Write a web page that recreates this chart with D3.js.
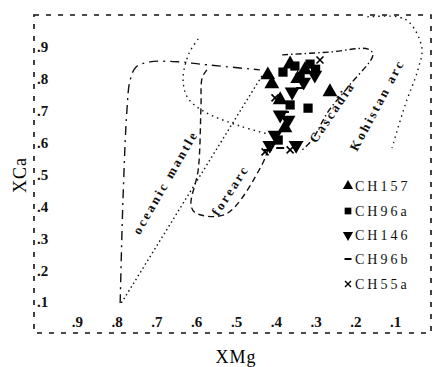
<!DOCTYPE html>
<html><head><meta charset="utf-8">
<script src="https://cdn.jsdelivr.net/npm/d3@7"></script>
<style>body{margin:0;background:#fff}</style></head>
<body><svg id="c" width="434" height="367"></svg>
<script>
// ---- data ----
const xTicks = [0.9,0.8,0.7,0.6,0.5,0.4,0.3,0.2,0.1];
const xTickLabels = [".9",".8",".7",".6",".5",".4",".3",".2",".1"];
const yTicks = [0.1,0.2,0.3,0.4,0.5,0.6,0.7,0.8,0.9];
const yTickLabels = [".1",".2",".3",".4",".5",".6",".7",".8",".9"];
const seriesNames = ["CH157","CH96a","CH146","CH96b","CH55a"];
const ch157 = [[0.420,0.812],[0.410,0.784],[0.364,0.846],[0.327,0.828],[0.264,0.759],[0.389,0.734],[0.377,0.646],[0.345,0.800]];
const ch96a = [[0.352,0.840],[0.314,0.846],[0.339,0.803],[0.319,0.708],[0.364,0.718],[0.382,0.821],[0.394,0.608],[0.300,0.830]];
const ch146 = [[0.302,0.812],[0.359,0.759],[0.389,0.687],[0.369,0.671],[0.402,0.624],[0.415,0.592],[0.349,0.592],[0.330,0.790]];
const ch96b = [[0.339,0.771],[0.377,0.696],[0.389,0.583],[0.420,0.577]];
const ch55a = [[0.289,0.859],[0.427,0.571],[0.364,0.577],[0.402,0.740]];
// field outlines (XMg, XCa)
const oceanicOutline = [[0.791,0.097],[0.784,0.420],[0.774,0.702],[0.766,0.796],[0.751,0.837],[0.716,0.853],[0.640,0.853],[0.590,0.846],[0.440,0.828]];
const oceanicDiagonal = [[0.435,0.809],[0.791,0.091]];
const forearcOutline = [[0.573,0.828],[0.585,0.803],[0.588,0.712],[0.595,0.514],[0.613,0.404],[0.601,0.379],[0.525,0.376],[0.435,0.530],[0.420,0.577]];
const arcLeftOutline = [[0.595,0.925],[0.618,0.880],[0.633,0.800],[0.621,0.740],[0.578,0.696],[0.490,0.652],[0.420,0.627]];
const arcRightOutline = [[0.170,0.994],[0.093,0.994],[0.063,0.975],[0.033,0.897],[0.043,0.828],[0.075,0.718],[0.108,0.583]];
const cascadiaOutline = [[0.384,0.875],[0.264,0.884],[0.168,0.893],[0.156,0.875],[0.214,0.781],[0.269,0.696],[0.309,0.608],[0.339,0.571]];
const fieldLabels = [
  {text:"oceanic mantle", x:0.678, y:0.476, a:-60},
  {text:"forearc", x:0.515, y:0.451, a:-57},
  {text:"Cascadia", x:0.259, y:0.696, a:-56},
  {text:"Kohistan arc", x:0.146, y:0.718, a:-62}
];

// ---- drawing ----
const svg = d3.select("#c");
const x = d3.scaleLinear().domain([1,0]).range([37,435]);
const y = d3.scaleLinear().domain([0,1]).range([334,15]);
const font = "'Liberation Serif','DejaVu Serif',serif";

// frame
const fL=34, fR=431, fT=15, fB=333;
svg.append("rect").attr("x",fL).attr("y",fT).attr("width",fR-fL).attr("height",fB-fT)
  .attr("fill","none").attr("stroke","#111").attr("stroke-width",1.6).attr("stroke-dasharray","5,7");

// tick labels inside frame
const gx = svg.append("g").attr("transform",`translate(0,${fB-4})`)
  .call(d3.axisBottom(x).tickValues(xTicks).tickFormat((d,i)=>xTickLabels[i]).tickSize(0));
gx.select(".domain").remove();
gx.selectAll("text").attr("y",-2).attr("dy","0").attr("font-family",font).attr("font-size",15).attr("font-weight","bold").attr("fill","#111");
const gy = svg.append("g").attr("transform",`translate(${fL+3},0)`)
  .call(d3.axisRight(y).tickValues(yTicks).tickFormat((d,i)=>yTickLabels[i]).tickSize(0));
gy.select(".domain").remove();
gy.selectAll("text").attr("x",0).attr("font-family",font).attr("font-size",15).attr("font-weight","bold").attr("fill","#111");

// axis titles
svg.append("text").attr("x",236).attr("y",363).attr("text-anchor","middle")
  .attr("font-family",font).attr("font-size",18).attr("letter-spacing",1).text("XMg");
svg.append("text").attr("transform","translate(26,175) rotate(-90)").attr("text-anchor","middle")
  .attr("font-family",font).attr("font-size",18).attr("letter-spacing",1).text("XCa");

// fields
const line = d3.line().x(d=>x(d[0])).y(d=>y(d[1])).curve(d3.curveCatmullRom.alpha(0.5));
const lineLin = d3.line().x(d=>x(d[0])).y(d=>y(d[1]));
const fld = svg.append("g").attr("fill","none").attr("stroke","#111").attr("stroke-width",1.4);
fld.append("path").attr("d",line(oceanicOutline)).attr("stroke-dasharray","9,5,2,5");
fld.append("path").attr("d",lineLin(oceanicDiagonal)).attr("stroke-dasharray","1.5,3");
fld.append("path").attr("d",line(forearcOutline)).attr("stroke-dasharray","6,4");
fld.append("path").attr("d",line(arcLeftOutline)).attr("stroke-dasharray","1.5,4");
fld.append("path").attr("d",line(arcRightOutline)).attr("stroke-dasharray","1.5,4");
fld.append("path").attr("d",line(cascadiaOutline)).attr("stroke-dasharray","6,3,1.5,3");

fieldLabels.forEach(l=>{
  svg.append("text").attr("transform",`translate(${x(l.x)},${y(l.y)}) rotate(${l.a})`)
    .attr("text-anchor","middle").attr("dy","0.35em")
    .attr("font-family",font).attr("font-size",13).attr("font-weight","bold")
    .attr("letter-spacing",2.5).attr("fill","#111").text(l.text);
});

// symbols
const symTri = d3.symbol().type(d3.symbolTriangle).size(95);
const symSq = d3.symbol().type(d3.symbolSquare).size(85);
function drawSeries(data, kind){
  const g = svg.append("g");
  data.forEach(d=>{
    const px=x(d[0]), py=y(d[1]);
    if(kind==="tri") g.append("path").attr("d",symTri()).attr("transform",`translate(${px},${py})`).attr("fill","#000");
    else if(kind==="sq") g.append("path").attr("d",symSq()).attr("transform",`translate(${px},${py})`).attr("fill","#000");
    else if(kind==="itri") g.append("path").attr("d",symTri()).attr("transform",`translate(${px},${py}) rotate(180)`).attr("fill","#000");
    else if(kind==="dash") g.append("line").attr("x1",px-4).attr("x2",px+4).attr("y1",py).attr("y2",py).attr("stroke","#000").attr("stroke-width",2);
    else g.append("path").attr("d",`M${px-3.5},${py-3.5}L${px+3.5},${py+3.5}M${px-3.5},${py+3.5}L${px+3.5},${py-3.5}`).attr("stroke","#000").attr("stroke-width",1.6);
  });
}
const seriesData = [ch157,ch96a,ch146,ch96b,ch55a];
const kinds = ["tri","sq","itri","dash","x"];
seriesData.forEach((s,i)=>drawSeries(s,kinds[i]));

// legend
const legY = [186,211,235,259,284];
seriesNames.forEach((n,i)=>{
  const lx=348, ly=legY[i];
  const k=kinds[i];
  if(k==="tri") svg.append("path").attr("d",d3.symbol().type(d3.symbolTriangle).size(45)()).attr("transform",`translate(${lx},${ly})`);
  else if(k==="sq") svg.append("path").attr("d",d3.symbol().type(d3.symbolSquare).size(45)()).attr("transform",`translate(${lx},${ly})`);
  else if(k==="itri") svg.append("path").attr("d",d3.symbol().type(d3.symbolTriangle).size(45)()).attr("transform",`translate(${lx},${ly}) rotate(180)`);
  else if(k==="dash") svg.append("line").attr("x1",lx-3.5).attr("x2",lx+3.5).attr("y1",ly).attr("y2",ly).attr("stroke","#000").attr("stroke-width",2);
  else svg.append("path").attr("d",`M${lx-3},${ly-3}L${lx+3},${ly+3}M${lx-3},${ly+3}L${lx+3},${ly-3}`).attr("stroke","#000").attr("stroke-width",1.4);
  svg.append("text").attr("x",lx+7).attr("y",ly).attr("dy","0.35em")
    .attr("font-family",font).attr("font-size",14).attr("letter-spacing",3).attr("fill","#111").text(n);
});
</script></body></html>
